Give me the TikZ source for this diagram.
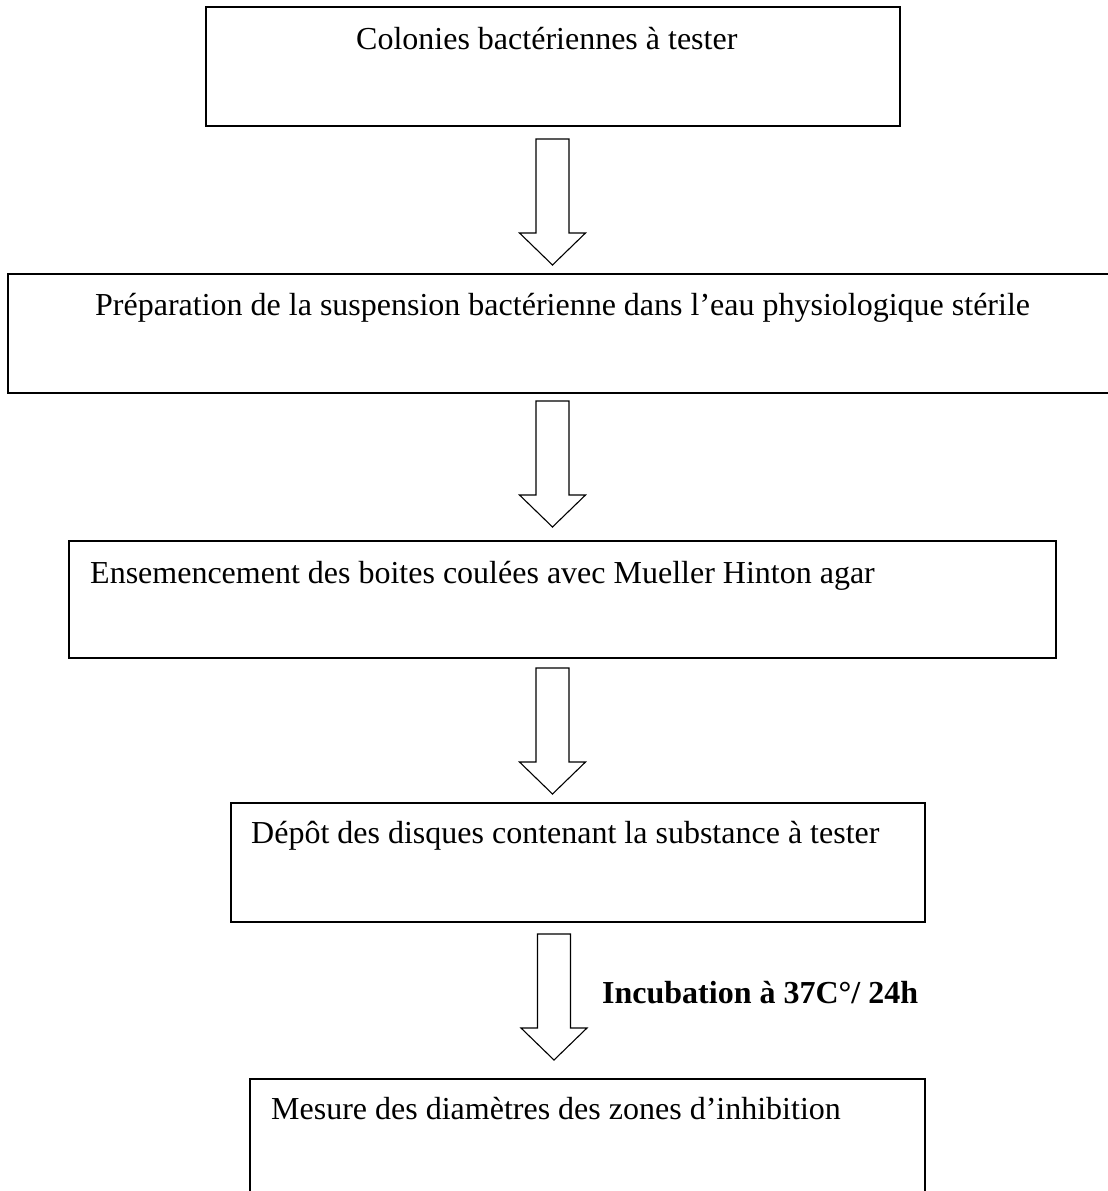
\documentclass[tikz,border=0pt]{standalone}
\usepackage{fontspec}
\setmainfont{Liberation Serif}
\begin{document}
\begin{tikzpicture}[x=1pt,y=-1pt,
  box/.style={draw=black,line width=1.6pt,fill=white,inner sep=0pt},
  lbl/.style={anchor=base west,inner sep=0pt,font=\fontsize{32}{38}\selectfont},
  arrowline/.style={draw=black,line width=1.1pt,fill=white,line join=miter},
  blockarrow/.pic={\path[arrowline] (-16.5,0) -- (16.5,0) -- (16.5,94) -- (33,94) -- (0,126) -- (-33,94) -- (-16.5,94) -- cycle;}]
\path[use as bounding box,fill=white] (0,0) rectangle (1108,1191);
\clip (0,0) rectangle (1108,1191);
% boxes
\node[box,minimum width=694pt,minimum height=119pt] (b1) at (553,66.5) {};
\node[box,minimum width=1112pt,minimum height=119pt] (b2) at (564,333.5) {};
\node[box,minimum width=987pt,minimum height=117pt] (b3) at (562.5,599.5) {};
\node[box,minimum width=694pt,minimum height=119pt] (b4) at (578,862.5) {};
\node[box,minimum width=675pt,minimum height=121pt] (b5) at (587.5,1139.5) {};
% texts
\node[lbl] (t1) at (356,49) {Colonies bactériennes à tester};
\node[lbl] (t2) at (95,315) {Préparation de la suspension bactérienne dans l’eau physiologique stérile};
\node[lbl] (t3) at (90,583) {Ensemencement des boites coulées avec Mueller Hinton agar};
\node[lbl] (t4) at (251,843) {Dépôt des disques contenant la substance à tester};
\node[lbl] (t5) at (271,1119) {Mesure des diamètres des zones d’inhibition};
\node[lbl,font=\fontsize{32}{38}\selectfont\bfseries] (t6) at (602,1003) {Incubation à 37C°/ 24h};
% arrows
\coordinate (a1) at (552.5,139);
\coordinate (a2) at (552.5,401);
\coordinate (a3) at (552.5,668);
\coordinate (a4) at (554,934);
\pic at (a1) {blockarrow};
\pic at (a2) {blockarrow};
\pic at (a3) {blockarrow};
\pic at (a4) {blockarrow};
\end{tikzpicture}
\end{document}
